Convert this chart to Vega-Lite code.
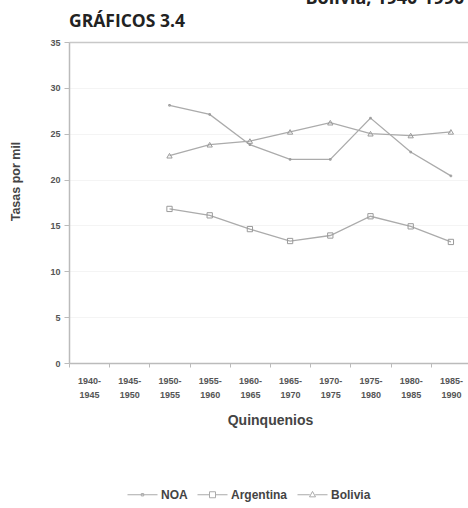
{
  "$schema": "https://vega.github.io/schema/vega-lite/v6.json",
  "width": 402,
  "height": 321,
  "autosize": "none",
  "padding": {"left": 69, "top": 42, "right": 0, "bottom": 145},
  "background": "white",
  "title": {
    "text": "GRÁFICOS 3.4",
    "anchor": "start",
    "frame": "group",
    "font": "Open Sans",
    "fontSize": 17.5,
    "fontWeight": "bold",
    "color": "#222",
    "offset": -41
  },
  "data": {
    "values": [
      {"periodo": "1950-1955", "serie": "NOA", "tasa": 28.1},
      {"periodo": "1955-1960", "serie": "NOA", "tasa": 27.1},
      {"periodo": "1960-1965", "serie": "NOA", "tasa": 23.8},
      {"periodo": "1965-1970", "serie": "NOA", "tasa": 22.2},
      {"periodo": "1970-1975", "serie": "NOA", "tasa": 22.2},
      {"periodo": "1975-1980", "serie": "NOA", "tasa": 26.7},
      {"periodo": "1980-1985", "serie": "NOA", "tasa": 23.0},
      {"periodo": "1985-1990", "serie": "NOA", "tasa": 20.4},
      {"periodo": "1950-1955", "serie": "Argentina", "tasa": 16.8},
      {"periodo": "1955-1960", "serie": "Argentina", "tasa": 16.1},
      {"periodo": "1960-1965", "serie": "Argentina", "tasa": 14.6},
      {"periodo": "1965-1970", "serie": "Argentina", "tasa": 13.3},
      {"periodo": "1970-1975", "serie": "Argentina", "tasa": 13.9},
      {"periodo": "1975-1980", "serie": "Argentina", "tasa": 16.0},
      {"periodo": "1980-1985", "serie": "Argentina", "tasa": 14.9},
      {"periodo": "1985-1990", "serie": "Argentina", "tasa": 13.2},
      {"periodo": "1950-1955", "serie": "Bolivia", "tasa": 22.6},
      {"periodo": "1955-1960", "serie": "Bolivia", "tasa": 23.8},
      {"periodo": "1960-1965", "serie": "Bolivia", "tasa": 24.2},
      {"periodo": "1965-1970", "serie": "Bolivia", "tasa": 25.2},
      {"periodo": "1970-1975", "serie": "Bolivia", "tasa": 26.2},
      {"periodo": "1975-1980", "serie": "Bolivia", "tasa": 25.0},
      {"periodo": "1980-1985", "serie": "Bolivia", "tasa": 24.8},
      {"periodo": "1985-1990", "serie": "Bolivia", "tasa": 25.2}
    ]
  },
  "layer": [
    {
      "mark": {"type": "line", "color": "#ababab", "strokeWidth": 1.3},
      "encoding": {
        "x": {
          "field": "periodo",
          "type": "nominal",
          "sort": null,
          "scale": {
            "type": "band",
            "paddingInner": 0,
            "paddingOuter": 0,
            "domain": ["1940-1945", "1945-1950", "1950-1955", "1955-1960", "1960-1965", "1965-1970", "1970-1975", "1975-1980", "1980-1985", "1985-1990"]
          },
          "axis": {
            "orient": "bottom",
            "title": "Quinquenios",
            "titleFont": "Liberation Sans",
            "titleFontSize": 14,
            "titleFontWeight": "bold",
            "titleColor": "#444",
            "titlePadding": 14,
            "labelAngle": 0,
            "labelExpr": "datum.label ? [split(datum.label,'-')[0] + '-', split(datum.label,'-')[1]] : ''",
            "labelFont": "Liberation Sans",
            "labelFontSize": 9,
            "labelFontWeight": "bold",
            "labelColor": "#555",
            "labelLineHeight": 14,
            "labelPadding": 9,
            "tickBand": "extent",
            "tickSize": 4,
            "tickColor": "#bbb",
            "domainColor": "#bbb",
            "domainWidth": 1.5,
            "grid": false
          }
        },
        "y": {
          "field": "tasa",
          "type": "quantitative",
          "scale": {"domain": [0, 35], "nice": false},
          "axis": {
            "title": "Tasas por mil",
            "titleFont": "Liberation Sans",
            "titleFontSize": 12.5,
            "titleFontWeight": "bold",
            "titleColor": "#444",
            "titleX": -54,
            "titleY": 139,
            "titleAlign": "center",
            "titleBaseline": "middle",
            "values": [0, 5, 10, 15, 20, 25, 30, 35],
            "labelFont": "Liberation Sans",
            "labelFontSize": 9,
            "labelFontWeight": "bold",
            "labelColor": "#555",
            "labelPadding": 4,
            "tickSize": 5,
            "tickColor": "#bbb",
            "domainColor": "#bbb",
            "domainWidth": 1.5,
            "grid": true,
            "gridColor": {"condition": {"test": "datum.value === 35", "value": "#c8c8c8"}, "value": "#f4f4f4"},
            "gridWidth": {"condition": {"test": "datum.value === 35", "value": 1.5}, "value": 1}
          }
        },
        "detail": {"field": "serie", "type": "nominal"}
      }
    },
    {
      "mark": {"type": "point", "filled": false, "color": "#9a9a9a", "strokeWidth": 1, "opacity": 1, "size": 28},
      "encoding": {
        "x": {
          "field": "periodo",
          "type": "nominal",
          "sort": null,
          "axis": {
            "orient": "top",
            "title": "Bolivia, 1940-1990",
            "titleFont": "Open Sans",
            "titleFontSize": 18,
            "titleFontWeight": "bold",
            "titleColor": "#222",
            "titleAnchor": "end",
            "titleAlign": "left",
            "titleBaseline": "alphabetic",
            "titleX": 236,
            "titleY": -39,
            "labels": false,
            "ticks": false,
            "domain": false,
            "grid": false
          }
        },
        "y": {"field": "tasa", "type": "quantitative"},
        "shape": {
          "field": "serie",
          "type": "nominal",
          "scale": {
            "domain": ["NOA", "Argentina", "Bolivia"],
            "range": ["M-0.3,-0.3H0.3V0.3H-0.3Z", "square", "triangle-up"]
          },
          "legend": null
        }
      }
    },
    {
      "mark": {"type": "point", "filled": false, "color": "#9a9a9a", "opacity": 0, "size": 28},
      "encoding": {
        "x": {"field": "periodo", "type": "nominal", "sort": null, "axis": null},
        "y": {"field": "tasa", "type": "quantitative"},
        "shape": {
          "field": "serie",
          "type": "nominal",
          "scale": {
            "domain": ["NOA", "Argentina", "Bolivia"],
            "range": [
              "M-1,0H1M-0.08,-0.08H0.08V0.08H-0.08Z",
              "M-1,0H-0.2M0.2,0H1M-0.2,-0.2H0.2V0.2H-0.2Z",
              "M-1,0H-0.18M0.18,0H1M0,-0.22L0.2,0.14H-0.2Z"
            ]
          },
          "legend": {
            "orient": "none",
            "direction": "horizontal",
            "legendX": 58,
            "legendY": 437,
            "title": null,
            "labelFont": "Liberation Sans",
            "labelFontSize": 12,
            "labelFontWeight": "bold",
            "labelColor": "#444",
            "labelOffset": 3,
            "columnPadding": 7,
            "symbolSize": 900,
            "symbolStrokeColor": "#aaa",
            "symbolFillColor": "transparent",
            "symbolStrokeWidth": 1,
            "symbolOpacity": 1
          }
        }
      }
    }
  ],
  "resolve": {"axis": {"x": "independent"}, "scale": {"shape": "independent"}},
  "config": {"view": {"stroke": null}}
}
